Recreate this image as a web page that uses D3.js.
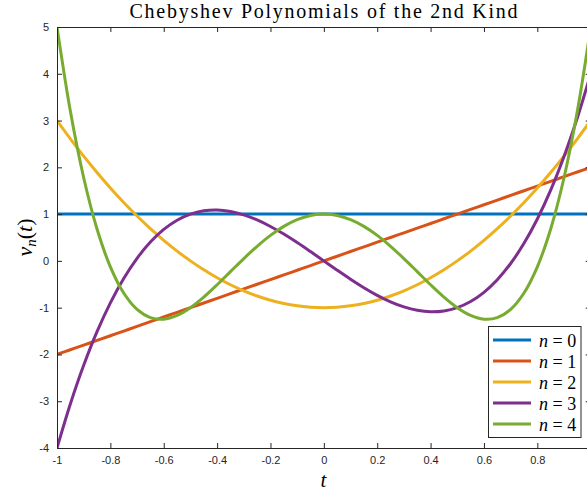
<!DOCTYPE html>
<html>
<head>
<meta charset="utf-8">
<script src="https://cdn.jsdelivr.net/npm/d3@7/dist/d3.min.js"></script>
<style>
  html, body { margin: 0; padding: 0; background: #fff; }
  svg { display: block; }
</style>
</head>
<body>
<svg id="chart" width="587" height="496"></svg>
<script>
// Sample points t in [-1, 1] (step 0.05)
const tValues = [-1, -0.95, -0.9, -0.85, -0.8, -0.75, -0.7, -0.65, -0.6, -0.55, -0.5,
  -0.45, -0.4, -0.35, -0.3, -0.25, -0.2, -0.15, -0.1, -0.05, 0,
  0.05, 0.1, 0.15, 0.2, 0.25, 0.3, 0.35, 0.4, 0.45, 0.5,
  0.55, 0.6, 0.65, 0.7, 0.75, 0.8, 0.85, 0.9, 0.95, 1];

// Chebyshev polynomials of the second kind at those points
const u0 = [1, 1, 1, 1, 1, 1, 1, 1, 1, 1, 1,
  1, 1, 1, 1, 1, 1, 1, 1, 1, 1,
  1, 1, 1, 1, 1, 1, 1, 1, 1, 1,
  1, 1, 1, 1, 1, 1, 1, 1, 1, 1];
const u1 = [-2, -1.9, -1.8, -1.7, -1.6, -1.5, -1.4, -1.3, -1.2, -1.1, -1,
  -0.9, -0.8, -0.7, -0.6, -0.5, -0.4, -0.3, -0.2, -0.1, 0,
  0.1, 0.2, 0.3, 0.4, 0.5, 0.6, 0.7, 0.8, 0.9, 1,
  1.1, 1.2, 1.3, 1.4, 1.5, 1.6, 1.7, 1.8, 1.9, 2];
const u2 = [3, 2.61, 2.24, 1.89, 1.56, 1.25, 0.96, 0.69, 0.44, 0.21, 0,
  -0.19, -0.36, -0.51, -0.64, -0.75, -0.84, -0.91, -0.96, -0.99, -1,
  -0.99, -0.96, -0.91, -0.84, -0.75, -0.64, -0.51, -0.36, -0.19, 0,
  0.21, 0.44, 0.69, 0.96, 1.25, 1.56, 1.89, 2.24, 2.61, 3];
const u3 = [-4, -3.059, -2.232, -1.513, -0.896, -0.375, 0.056, 0.403, 0.672, 0.869, 1,
  1.071, 1.088, 1.057, 0.984, 0.875, 0.736, 0.573, 0.392, 0.199, 0,
  -0.199, -0.392, -0.573, -0.736, -0.875, -0.984, -1.057, -1.088, -1.071, -1,
  -0.869, -0.672, -0.403, -0.056, 0.375, 0.896, 1.513, 2.232, 3.059, 4];
const u4 = [5, 3.2021, 1.7776, 0.6821, -0.1264, -0.6875, -1.0384, -1.2139, -1.2464, -1.1659, -1,
  -0.7739, -0.5104, -0.2299, 0.0496, 0.3125, 0.5456, 0.7381, 0.8816, 0.9701, 1,
  0.9701, 0.8816, 0.7381, 0.5456, 0.3125, 0.0496, -0.2299, -0.5104, -0.7739, -1,
  -1.1659, -1.2464, -1.2139, -1.0384, -0.6875, -0.1264, 0.6821, 1.7776, 3.2021, 5];

const seriesNames = ["0", "1", "2", "3", "4"];
const seriesColors = ["#0072BD", "#D95319", "#EDB120", "#7E2F8E", "#77AC30"];
const xTicks = [-1, -0.8, -0.6, -0.4, -0.2, 0, 0.2, 0.4, 0.6, 0.8, 1];
const xTickLabels = ["-1", "-0.8", "-0.6", "-0.4", "-0.2", "0", "0.2", "0.4", "0.6", "0.8", ""];
const yTicks = [-4, -3, -2, -1, 0, 1, 2, 3, 4, 5];
const yTickLabels = ["-4", "-3", "-2", "-1", "0", "1", "2", "3", "4", "5"];

const series = [u0, u1, u2, u3, u4];

const svg = d3.select("#chart");
const plotL = 57, plotR = 590.7, plotT = 27, plotB = 448;

const x = d3.scaleLinear().domain([-1, 1]).range([plotL, plotR]);
const y = d3.scaleLinear().domain([-4, 5]).range([plotB, plotT]);

const axisColor = "#262626";
const tickFont = "'Liberation Sans', Arial, sans-serif";
const serif = "'Liberation Serif', 'Times New Roman', serif";

// Plot area clip
svg.append("defs").append("clipPath").attr("id", "plotClip")
  .append("rect").attr("x", plotL).attr("y", plotT)
  .attr("width", plotR - plotL).attr("height", plotB - plotT);

// Axes (box with inward ticks on all sides)
const tickLen = 5;
const axBottom = d3.axisBottom(x).tickValues(xTicks).tickSizeInner(-tickLen).tickSizeOuter(0)
  .tickPadding(8).tickFormat((d, i) => xTickLabels[i]);
const axTop = d3.axisTop(x).tickValues(xTicks).tickSizeInner(-tickLen).tickSizeOuter(0).tickFormat("");
const axLeft = d3.axisLeft(y).tickValues(yTicks).tickSizeInner(-tickLen).tickSizeOuter(0)
  .tickPadding(8).tickFormat((d, i) => yTickLabels[i]);
const axRight = d3.axisRight(y).tickValues(yTicks).tickSizeInner(-tickLen).tickSizeOuter(0).tickFormat("");

function styleAxis(g) {
  g.select(".domain").attr("stroke", axisColor).attr("stroke-width", 1);
  g.selectAll(".tick line").attr("stroke", axisColor).attr("stroke-width", 1);
  g.selectAll(".tick text").attr("fill", axisColor)
    .style("font-family", tickFont).style("font-size", "11px");
}

// Curves
const line = d3.line()
  .x((d, i) => x(tValues[i]))
  .y(d => y(d))
  .curve(d3.curveCatmullRom.alpha(0.5));

const curves = svg.append("g").attr("clip-path", "url(#plotClip)");
series.forEach((vals, k) => {
  curves.append("path")
    .attr("d", line(vals))
    .attr("fill", "none")
    .attr("stroke", seriesColors[k])
    .attr("stroke-width", 3)
    .attr("stroke-linejoin", "round");
});

svg.append("g").attr("transform", `translate(0,${plotB})`).call(axBottom).call(styleAxis);
svg.append("g").attr("transform", `translate(0,${plotT})`).call(axTop).call(styleAxis);
svg.append("g").attr("transform", `translate(${plotL},0)`).call(axLeft).call(styleAxis);
svg.append("g").attr("transform", `translate(${plotR},0)`).call(axRight).call(styleAxis);

// Title
svg.append("text")
  .attr("x", 323.5).attr("y", 18)
  .attr("text-anchor", "middle")
  .attr("textLength", 388).attr("lengthAdjust", "spacing")
  .style("font-family", serif).style("font-size", "20px").attr("fill", "#000")
  .text("Chebyshev Polynomials of the 2nd Kind");

// Axis labels
svg.append("text")
  .attr("x", 323.5).attr("y", 487)
  .attr("text-anchor", "middle")
  .style("font-family", serif).style("font-size", "21px").style("font-style", "italic")
  .text("t");

const yl = svg.append("text")
  .attr("transform", `translate(32,${(plotT + plotB) / 2}) rotate(-90)`)
  .attr("text-anchor", "middle")
  .style("font-family", serif).style("font-size", "22px");
yl.append("tspan").style("font-style", "italic").text("v");
yl.append("tspan").style("font-style", "italic").style("font-size", "15px").attr("dy", 4).text("n");
yl.append("tspan").attr("dy", -4).text("(");
yl.append("tspan").style("font-style", "italic").text("t");
yl.append("tspan").text(")");

// Legend
const lg = svg.append("g");
lg.append("rect")
  .attr("x", 488.5).attr("y", 326.5).attr("width", 92.5).attr("height", 111)
  .attr("fill", "#fff").attr("stroke", axisColor).attr("stroke-width", 1);
seriesNames.forEach((name, k) => {
  const yy = 340 + k * 21;
  lg.append("line")
    .attr("x1", 493).attr("x2", 531).attr("y1", yy).attr("y2", yy)
    .attr("stroke", seriesColors[k]).attr("stroke-width", 3);
  const t = lg.append("text")
    .attr("x", 539).attr("y", yy + 6.5)
    .style("font-family", serif).style("font-size", "18px");
  t.append("tspan").style("font-style", "italic").text("n");
  t.append("tspan").text(" = " + name);
});
</script>
</body>
</html>
